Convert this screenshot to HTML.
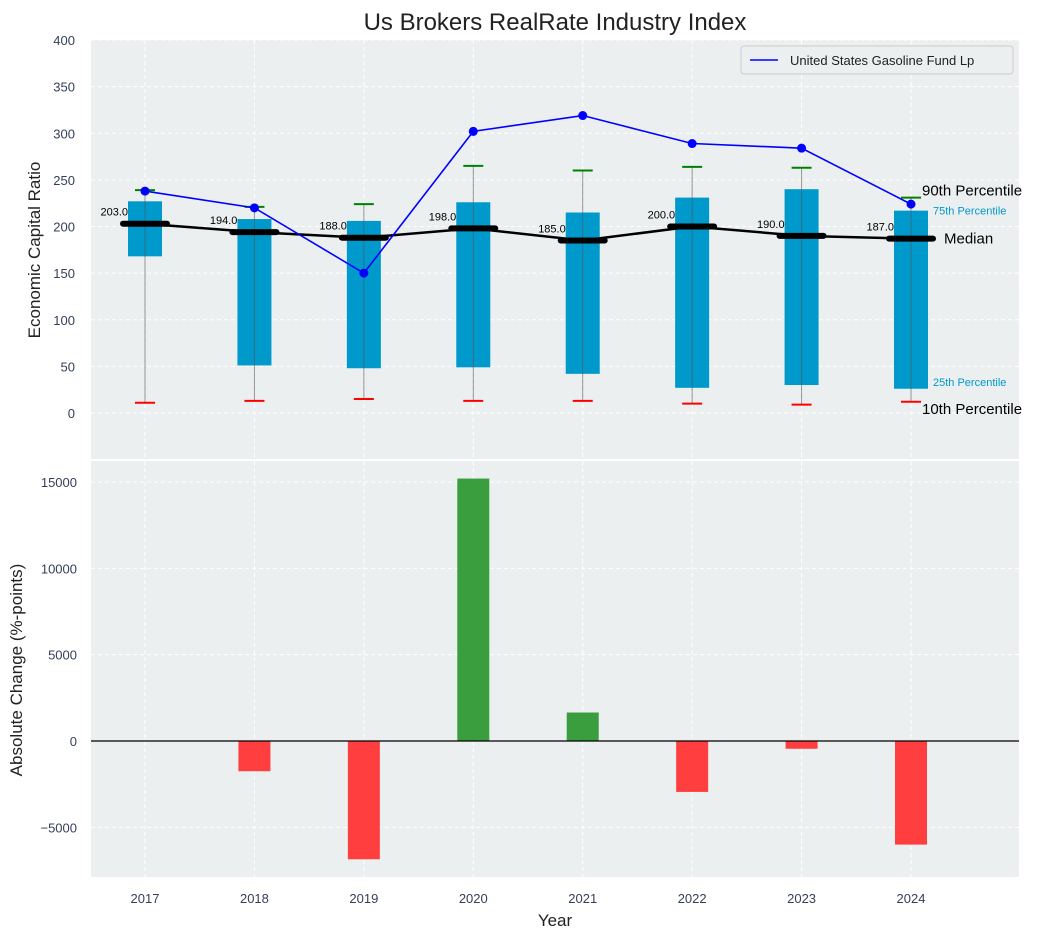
<!DOCTYPE html>
<html><head><meta charset="utf-8"><style>
body{margin:0;background:#fff;}
svg{font-family:"Liberation Sans","DejaVu Sans",sans-serif;}
</style></head><body>
<svg id="c" width="1043" height="940" xmlns="http://www.w3.org/2000/svg"></svg>
<script>
const years=[2017,2018,2019,2020,2021,2022,2023,2024];
const p10=[11,13,15,13,13,10,9,12];
const q25=[168,51,48,49,42,27,30,26];
const median=[203,194,188,198,185,200,190,187];
const q75=[227,208,206,226,215,231,240,217];
const p90=[239,221,224,265,260,264,263,231];
const company=[238,220,150,302,319,289,284,224];
const change=[0,-1750,-6850,15200,1650,-2950,-450,-6000];
const topTicks=[0,50,100,150,200,250,300,350,400];
const botTicks=[-5000,0,5000,10000,15000];
const botLabels=["\u22125000","0","5000","10000","15000"];

const svg=document.getElementById('c');
const NS='http://www.w3.org/2000/svg';
function mk(t,a,txt){const e=document.createElementNS(NS,t);for(const k in a)e.setAttribute(k,a[k]);if(txt!==undefined)e.textContent=txt;svg.appendChild(e);return e;}
const L=91,R=1019;
const TC='#34405a';
const x=v=>145+(v-2017)*109.43;
const yT=v=>413-v*0.9325;
const yB=v=>741-v*0.017267;

let e=mk('rect',{x:L,y:40,width:R-L,height:419,fill:'#eceff0'});

e=mk('rect',{x:L,y:461,width:R-L,height:416,fill:'#eceff0'});


years.forEach(yr=>{
 e=mk('line',{x1:x(yr),x2:x(yr),y1:40,y2:459,stroke:'#fff','stroke-dasharray':'4,3'});
 
 e=mk('line',{x1:x(yr),x2:x(yr),y1:461,y2:877,stroke:'#fff','stroke-dasharray':'4,3'});
 
 e=mk('text',{x:x(yr),y:903,'text-anchor':'middle','font-size':13,fill:TC},yr);
 
});
topTicks.forEach(t=>{
 e=mk('line',{x1:L,x2:R,y1:yT(t),y2:yT(t),stroke:'#fff','stroke-dasharray':'4,3'});
 
 e=mk('text',{x:75,y:yT(t)+5,'text-anchor':'end','font-size':13,fill:TC},t);
 
});
botTicks.forEach((t,i)=>{
 e=mk('line',{x1:L,x2:R,y1:yB(t),y2:yB(t),stroke:'#fff','stroke-dasharray':'4,3'});
 
 e=mk('text',{x:77,y:yB(t)+5,'text-anchor':'end','font-size':13,fill:TC},botLabels[i]);
 
});

years.forEach((yr,i)=>{
 const cx=x(yr);
 e=mk('rect',{x:cx-17,y:yT(q75[i]),width:34,height:yT(q25[i])-yT(q75[i]),fill:'#0099cc'});
 
 e=mk('line',{x1:cx,x2:cx,y1:yT(p90[i]),y2:yT(p10[i]),stroke:'#555','stroke-width':1,opacity:0.6});
 
 e=mk('line',{x1:cx-10,x2:cx+10,y1:yT(p90[i]),y2:yT(p90[i]),stroke:'green','stroke-width':2});
 
 e=mk('line',{x1:cx-10,x2:cx+10,y1:yT(p10[i]),y2:yT(p10[i]),stroke:'red','stroke-width':2});
 
});
e=mk('polyline',{points:years.map((yr,i)=>x(yr)+','+yT(median[i])).join(' '),fill:'none',stroke:'#000','stroke-width':2.5});

years.forEach((yr,i)=>{
 e=mk('line',{x1:x(yr)-22,x2:x(yr)+22,y1:yT(median[i]),y2:yT(median[i]),stroke:'#000','stroke-width':6,'stroke-linecap':'round'});
 
 e=mk('text',{x:x(yr)-17,y:yT(median[i])-8,'text-anchor':'end','font-size':11,fill:'#000'},median[i].toFixed(1));
 
});
e=mk('polyline',{points:years.map((yr,i)=>x(yr)+','+yT(company[i])).join(' '),fill:'none',stroke:'blue','stroke-width':1.6});

years.forEach((yr,i)=>{
 e=mk('circle',{cx:x(yr),cy:yT(company[i]),r:4.5,fill:'blue'});
 
});
const lx=x(2024);
// [value, text, size, color, baseline offset from value, x offset]
const ann=[[p90[7],'90th Percentile',15,'#000',-2,11],[q75[7],'75th Percentile',11,'#0099cc',4,22],[median[7],'Median',15,'#000',5,33],[q25[7],'25th Percentile',11,'#0099cc',-3,22],[p10[7],'10th Percentile',15,'#000',12,11]];
ann.forEach(a=>{
 e=mk('text',{x:lx+a[5],y:yT(a[0])+a[4],'font-size':a[2],fill:a[3]},a[1]);
 
});

years.forEach((yr,i)=>{
 const v=change[i];
 e=mk('rect',{x:x(yr)-16,y:Math.min(yB(v),yB(0)),width:32,height:Math.abs(yB(v)-yB(0)),fill:v>=0?'#3a9e3f':'#ff3f3f'});
 
});
e=mk('line',{x1:L,x2:R,y1:yB(0),y2:yB(0),stroke:'#000','stroke-width':1.2});


e=mk('rect',{x:741,y:46,width:272,height:28,fill:'#eceff0',stroke:'#ccc',rx:3});

e=mk('line',{x1:750,x2:778,y1:60,y2:60,stroke:'blue','stroke-width':1.6});

e=mk('text',{x:790,y:65,'font-size':13,fill:'#222'},'United States Gasoline Fund Lp');


e=mk('text',{x:555,y:30,'text-anchor':'middle','font-size':24,fill:'#222'},'Us Brokers RealRate Industry Index');

e=mk('text',{x:555,y:926,'text-anchor':'middle','font-size':17,fill:'#222'},'Year');

e=mk('text',{x:0,y:0,transform:'translate(40,250) rotate(-90)','text-anchor':'middle','font-size':17,fill:'#222'},'Economic Capital Ratio');

e=mk('text',{x:0,y:0,transform:'translate(22,670) rotate(-90)','text-anchor':'middle','font-size':17,fill:'#222'},'Absolute Change (%-points)');

</script>
</body></html>
